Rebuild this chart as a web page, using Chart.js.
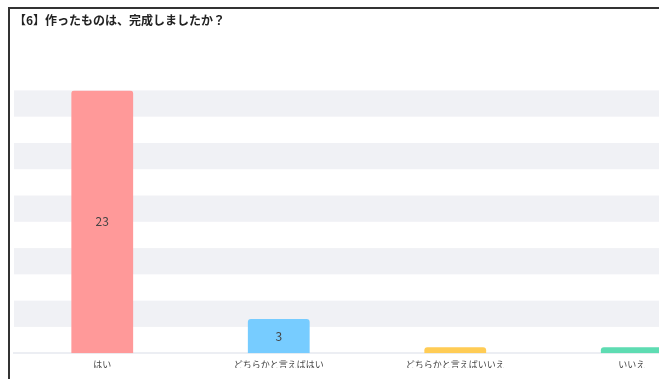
<!DOCTYPE html>
<html>
<head>
<meta charset="utf-8">
<script src="https://cdn.jsdelivr.net/npm/chart.js@4"></script>
<style>
  html, body { margin: 0; padding: 0; overflow: hidden; background: #fff; }
  #frame {
    position: absolute; left: 8px; top: 7px;
    width: 740px; height: 400px;
    border-left: 2px solid #333; border-top: 2px solid #333;
    background: #fff;
  }
  #wrap { position: absolute; left: 0; top: 0; width: 710px; height: 370px; }
</style>
</head>
<body>
<div id="frame"><div id="wrap"><canvas id="completed"></canvas></div></div>
<script>
var titleText = "【6】作ったものは、完成しましたか？";
var answers = ["はい", "どちらかと言えばはい", "どちらかと言えばいいえ", "いいえ"];
var counts = [23, 3, 0, 0];
var barColors = ["#ff9999", "#77ccff", "#ffcc55", "#5edcb2"];
var yMax = 23;
var yStep = 2.3;

// alternating grey bands between y ticks
var bandPlugin = {
  id: "bands",
  beforeDatasetsDraw: function (chart) {
    var ctx = chart.ctx;
    var area = chart.chartArea;
    var y = chart.scales.y;
    ctx.save();
    ctx.fillStyle = "#f0f1f5";
    for (var i = 0; i < y.ticks.length - 1; i++) {
      if (i % 2 === 1) {
        var top = y.getPixelForValue(y.ticks[i + 1].value);
        var bottom = y.getPixelForValue(y.ticks[i].value);
        ctx.fillRect(area.left, top, area.right - area.left, bottom - top);
      }
    }
    ctx.restore();
  }
};

// numbers written inside the bars
var valuePlugin = {
  id: "values",
  afterDatasetsDraw: function (chart) {
    var ctx = chart.ctx;
    var meta = chart.getDatasetMeta(0);
    ctx.save();
    ctx.font = "12px 'Noto Sans CJK JP', 'Noto Sans', sans-serif";
    ctx.fillStyle = "#444";
    ctx.textAlign = "center";
    ctx.textBaseline = "middle";
    meta.data.forEach(function (bar, i) {
      if (counts[i] > 0) {
        ctx.fillText(counts[i], bar.x, (bar.y + bar.base) / 2);
      }
    });
    ctx.restore();
  }
};

var ctx = document.getElementById("completed");
var myChart = new Chart(ctx, {
  type: "bar",
  data: {
    labels: answers,
    datasets: [{
      label: "回答数",
      data: counts,
      backgroundColor: barColors,
      borderRadius: { topLeft: 3, topRight: 3 },
      borderSkipped: "bottom",
      minBarLength: 6,
      barPercentage: 0.35,
      categoryPercentage: 1
    }]
  },
  options: {
    responsive: true,
    maintainAspectRatio: false,
    animation: false,
    layout: { padding: { left: 4, right: 0, top: 2, bottom: 11 } },
    plugins: {
      legend: { display: false },
      tooltip: { enabled: false },
      title: {
        display: true,
        text: titleText,
        align: "start",
        color: "#222",
        font: { family: "'Noto Sans CJK JP', sans-serif", size: 12, weight: "bold" },
        padding: { top: 2, bottom: 63 }
      }
    },
    scales: {
      x: {
        grid: { display: false },
        border: { color: "#eceef3", width: 2 },
        ticks: {
          color: "#444",
          font: { family: "'Noto Sans CJK JP', sans-serif", size: 9, lineHeight: 1.2 },
          padding: -2
        }
      },
      y: {
        display: false,
        min: 0,
        max: yMax,
        ticks: { stepSize: yStep }
      }
    }
  },
  plugins: [bandPlugin, valuePlugin]
});
</script>
</body>
</html>
